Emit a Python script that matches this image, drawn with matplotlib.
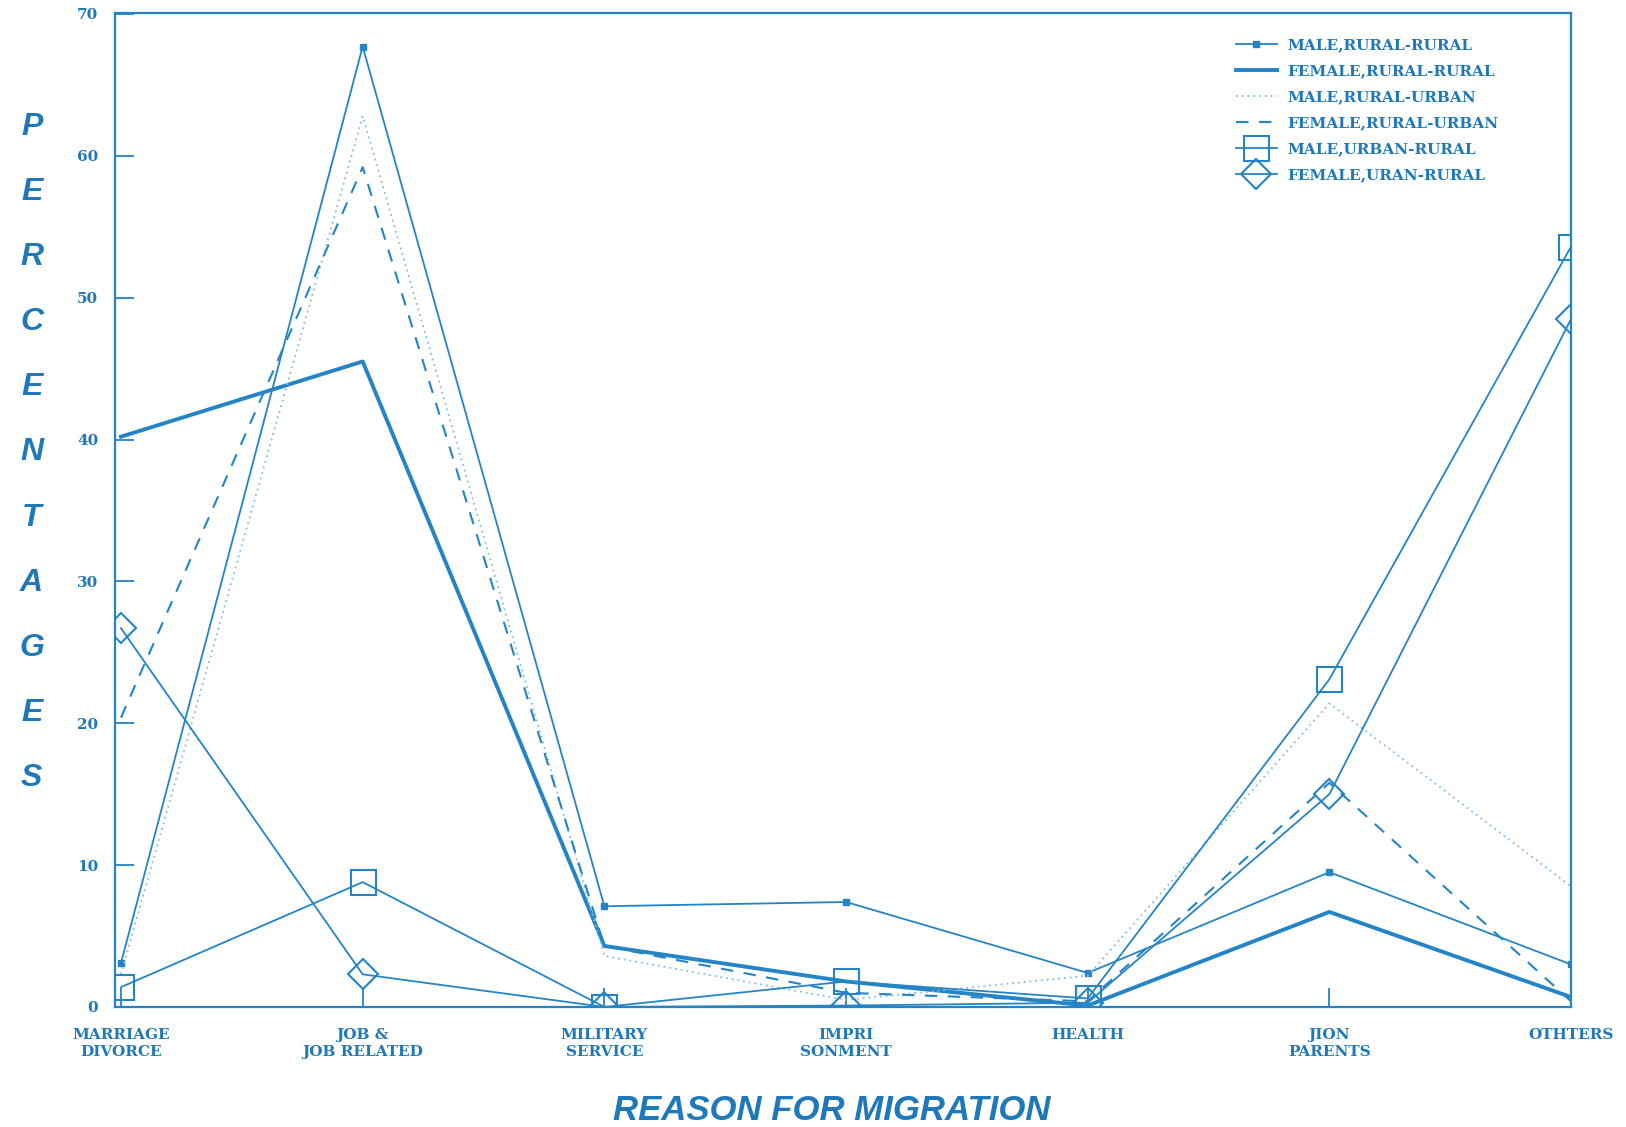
import numpy as np
import matplotlib
matplotlib.use('Agg')
import matplotlib.pyplot as plt

### DATA ###
REASONS = ['MARRIAGE\nDIVORCE', 'JOB &\nJOB RELATED', 'MILITARY\nSERVICE',
           'IMPRI\nSONMENT', 'HEALTH', 'JION\nPARENTS', 'OTHTERS']

male_rural_rural = [3.1, 67.7, 7.1, 7.4, 2.4, 9.5, 3.0]
female_rural_rural = [40.2, 45.5, 4.3, 1.8, 0.1, 6.7, 0.7]
male_rural_urban = [2.3, 62.8, 3.6, 0.5, 2.2, 21.4, 8.5]
female_rural_urban = [20.4, 59.2, 4.3, 1.0, 0.4, 15.8, 0.4]
male_urban_rural = [1.4, 8.8, 0.0, 1.8, 0.6, 23.1, 53.6]
female_urban_rural = [26.7, 2.3, 0.0, 0.1, 0.3, 15.0, 48.5]

Y_TICKS = [0, 10, 20, 30, 40, 50, 60, 70]

### STYLE ###
BLUE = '#2484c6'
TEXT_BLUE = '#1f78ba'
LIGHT_BLUE = '#86bce2'
TICK_FONT = 'DejaVu Serif'
LABEL_FONT = 'Liberation Sans'


def main():
    fig = plt.figure(figsize=(16.26, 11.27), dpi=100)
    ax = fig.add_axes([0.0707, 0.1065, 0.8955, 0.8824])
    x = np.arange(len(REASONS))

    ax.plot(x, male_rural_rural, color=BLUE, lw=1.3, marker='s', ms=5,
            mfc=BLUE, mec=BLUE, label='MALE,RURAL-RURAL')
    ax.plot(x, female_rural_rural, color=BLUE, lw=2.8,
            label='FEMALE,RURAL-RURAL')
    ax.plot(x, male_rural_urban, color=LIGHT_BLUE, lw=1.3, ls=(0, (1, 2.2)),
            label='MALE,RURAL-URBAN')
    ax.plot(x, female_rural_urban, color=BLUE, lw=1.5, ls=(0, (6, 5)),
            label='FEMALE,RURAL-URBAN')
    ax.plot(x, male_urban_rural, color=BLUE, lw=1.3, marker='s', ms=18,
            mfc='none', mec=BLUE, mew=1.5, label='MALE,URBAN-RURAL')
    ax.plot(x, female_urban_rural, color=BLUE, lw=1.3, marker='D', ms=15,
            mfc='none', mec=BLUE, mew=1.5, label='FEMALE,URAN-RURAL')

    ax.set_xlim(-0.025, 6.0)
    ax.set_ylim(0, 70.1)

    # Axes frame and ticks
    for spine in ax.spines.values():
        spine.set_color(BLUE)
        spine.set_linewidth(1.6)
    ax.set_xticks(x)
    ax.set_xticklabels(REASONS, fontfamily=TICK_FONT, fontweight='bold',
                       fontsize=11, color=TEXT_BLUE, linespacing=1.3)
    ax.set_yticks(Y_TICKS)
    ax.set_yticklabels([str(v) for v in Y_TICKS], fontfamily=TICK_FONT,
                       fontweight='bold', fontsize=11, color=TEXT_BLUE)
    ax.tick_params(axis='both', direction='in', length=14, width=1.3,
                   color=BLUE)
    ax.tick_params(axis='x', pad=15)
    ax.tick_params(axis='y', pad=12)

    # Axis titles
    fig.text(0.5115, 0.015, 'REASON FOR MIGRATION', ha='center',
             va='center', fontfamily=LABEL_FONT, fontstyle='italic',
             fontweight='bold', fontsize=25, color=TEXT_BLUE)
    for i, letter in enumerate('PERCENTAGES'):
        fig.text(0.0195, 1 - (127 + i * 65.1) / 1127, letter, ha='center',
                 va='center', fontfamily=LABEL_FONT, fontstyle='italic',
                 fontweight='bold', fontsize=23, color=TEXT_BLUE)

    # Legend
    leg = ax.legend(loc='upper left', bbox_to_anchor=(0.760, 0.9660),
                    bbox_transform=fig.transFigure, frameon=False,
                    borderpad=0, borderaxespad=0, handlelength=2.7,
                    handletextpad=0.7, labelspacing=0.78, numpoints=1,
                    prop={'family': TICK_FONT, 'weight': 'bold', 'size': 11})
    for txt in leg.get_texts():
        txt.set_color(TEXT_BLUE)

    fig.savefig('out.png', dpi=100)


if __name__ == '__main__':
    main()
